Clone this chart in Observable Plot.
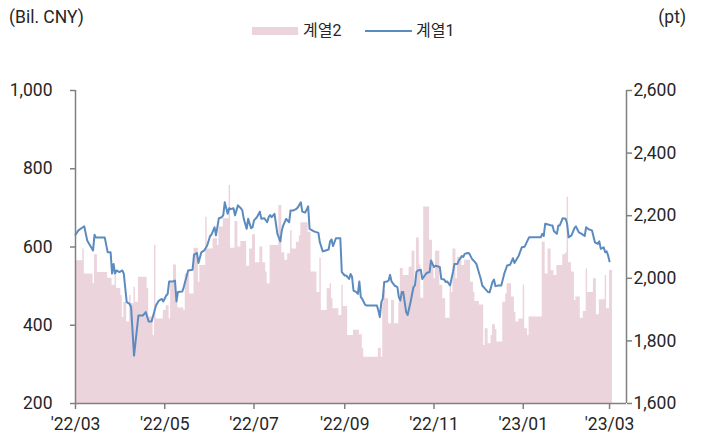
<!DOCTYPE html>
<html><head><meta charset="utf-8">
<script src="https://cdn.jsdelivr.net/npm/d3@7"></script>
<script src="https://cdn.jsdelivr.net/npm/@observablehq/plot@0.6"></script>
<style>
body{margin:0;background:#fff;}
#wrap{position:relative;width:702px;height:442px;font-family:Roboto,"Noto Sans CJK KR",sans-serif;color:#262626;}
.lab{position:absolute;font-size:17.5px;line-height:20px;white-space:nowrap;}
.leg{font-size:16px;}
.sw{position:absolute;}
</style></head><body><div id="wrap"></div>
<script>
// 계열1 (line, right axis, pt)
const lineDates = ["2022-03-01","2022-03-03","2022-03-05","2022-03-07","2022-03-09","2022-03-11","2022-03-13","2022-03-14","2022-03-15","2022-03-21","2022-03-23","2022-03-25","2022-03-26","2022-03-27","2022-03-28","2022-03-29","2022-03-31","2022-04-02","2022-04-03","2022-04-05","2022-04-07","2022-04-08","2022-04-10","2022-04-13","2022-04-16","2022-04-18","2022-04-20","2022-04-22","2022-04-25","2022-04-27","2022-04-29","2022-04-30","2022-05-02","2022-05-03","2022-05-04","2022-05-07","2022-05-08","2022-05-09","2022-05-10","2022-05-13","2022-05-14","2022-05-17","2022-05-20","2022-05-21","2022-05-23","2022-05-24","2022-05-26","2022-05-28","2022-05-30","2022-06-01","2022-06-02","2022-06-04","2022-06-05","2022-06-07","2022-06-09","2022-06-10","2022-06-11","2022-06-13","2022-06-14","2022-06-15","2022-06-17","2022-06-18","2022-06-20","2022-06-22","2022-06-23","2022-06-24","2022-06-26","2022-06-27","2022-06-29","2022-06-30","2022-07-01","2022-07-03","2022-07-05","2022-07-06","2022-07-08","2022-07-10","2022-07-11","2022-07-12","2022-07-13","2022-07-15","2022-07-17","2022-07-19","2022-07-20","2022-07-21","2022-07-23","2022-07-25","2022-07-26","2022-07-28","2022-07-30","2022-07-31","2022-08-02","2022-08-03","2022-08-05","2022-08-07","2022-08-08","2022-08-11","2022-08-14","2022-08-15","2022-08-17","2022-08-19","2022-08-21","2022-08-22","2022-08-23","2022-08-24","2022-08-26","2022-08-29","2022-08-30","2022-09-01","2022-09-02","2022-09-04","2022-09-05","2022-09-06","2022-09-07","2022-09-09","2022-09-10","2022-09-11","2022-09-12","2022-09-13","2022-09-15","2022-09-16","2022-09-23","2022-09-24","2022-09-25","2022-09-26","2022-09-27","2022-09-28","2022-09-30","2022-10-01","2022-10-02","2022-10-03","2022-10-05","2022-10-07","2022-10-08","2022-10-09","2022-10-10","2022-10-11","2022-10-13","2022-10-14","2022-10-16","2022-10-18","2022-10-19","2022-10-20","2022-10-21","2022-10-23","2022-10-24","2022-10-27","2022-10-29","2022-10-30","2022-11-01","2022-11-02","2022-11-05","2022-11-06","2022-11-08","2022-11-09","2022-11-10","2022-11-12","2022-11-14","2022-11-15","2022-11-17","2022-11-18","2022-11-20","2022-11-21","2022-11-22","2022-11-24","2022-11-25","2022-11-27","2022-11-28","2022-11-30","2022-12-01","2022-12-03","2022-12-04","2022-12-06","2022-12-08","2022-12-09","2022-12-11","2022-12-12","2022-12-13","2022-12-15","2022-12-17","2022-12-19","2022-12-21","2022-12-23","2022-12-25","2022-12-26","2022-12-27","2022-12-29","2022-12-30","2022-12-31","2023-01-02","2023-01-04","2023-01-05","2023-01-13","2023-01-14","2023-01-15","2023-01-16","2023-01-18","2023-01-20","2023-01-21","2023-01-22","2023-01-24","2023-01-25","2023-01-26","2023-01-28","2023-01-30","2023-01-31","2023-02-01","2023-02-03","2023-02-05","2023-02-06","2023-02-08","2023-02-10","2023-02-12","2023-02-13","2023-02-15","2023-02-17","2023-02-19","2023-02-21","2023-02-22","2023-02-23","2023-02-25","2023-02-26","2023-02-27","2023-02-28","2023-03-01"];
const lineValues = [2139,2153,2160,2166,2121,2105,2089,2139,2130,2130,2083,2083,2015,2046,2015,2025,2020,2025,2015,1924,1918,1908,1753,1881,1881,1892,1862,1862,1913,1929,1934,1926,1945,1950,1990,1990,1993,1926,1956,1958,1972,2025,2027,2075,2081,2049,2083,2089,2105,2135,2140,2163,2137,2192,2195,2202,2243,2206,2224,2221,2224,2201,2233,2224,2217,2190,2158,2190,2160,2163,2185,2195,2213,2190,2192,2179,2195,2202,2195,2206,2142,2118,2153,2169,2190,2179,2217,2217,2222,2227,2243,2213,2210,2230,2158,2150,2145,2115,2086,2089,2092,2118,2124,2103,2128,2128,2020,2009,2009,1998,2014,2005,1961,1956,1950,1990,1940,1934,1915,1913,1913,1897,1876,1924,1934,1988,1990,1993,2011,1990,1977,1972,1940,1929,1956,1956,1892,1883,1924,1972,1977,2020,2025,2027,1998,2017,2020,2057,2036,2040,2036,1998,1996,1988,1990,1977,2020,2046,2046,2057,2071,2068,2078,2081,2080,2062,2057,2046,2030,1998,1977,1966,1956,1955,1988,1996,1975,1977,1977,2014,2041,2043,2064,2049,2057,2073,2086,2099,2101,2121,2131,2131,2142,2135,2174,2172,2169,2169,2150,2142,2169,2169,2192,2190,2174,2131,2137,2160,2166,2147,2142,2135,2163,2156,2153,2115,2110,2118,2094,2099,2083,2086,2073,2054];

// 계열2 (bars, left axis, Bil. CNY); each value holds until the next date
const barDates = ["2022-03-01","2022-03-06","2022-03-07","2022-03-13","2022-03-14","2022-03-16","2022-03-23","2022-03-26","2022-03-28","2022-03-29","2022-04-01","2022-04-02","2022-04-03","2022-04-05","2022-04-07","2022-04-08","2022-04-10","2022-04-11","2022-04-13","2022-04-19","2022-04-20","2022-04-23","2022-04-24","2022-04-25","2022-04-30","2022-05-02","2022-05-04","2022-05-05","2022-05-07","2022-05-09","2022-05-10","2022-05-14","2022-05-15","2022-05-18","2022-05-21","2022-05-24","2022-05-25","2022-05-29","2022-05-30","2022-06-03","2022-06-06","2022-06-07","2022-06-10","2022-06-14","2022-06-15","2022-06-18","2022-06-20","2022-06-22","2022-06-26","2022-06-28","2022-06-30","2022-07-02","2022-07-05","2022-07-07","2022-07-09","2022-07-10","2022-07-12","2022-07-18","2022-07-20","2022-07-22","2022-07-24","2022-07-26","2022-07-27","2022-07-30","2022-08-01","2022-08-02","2022-08-07","2022-08-09","2022-08-13","2022-08-15","2022-08-16","2022-08-20","2022-08-22","2022-08-23","2022-08-24","2022-08-28","2022-08-30","2022-08-31","2022-09-03","2022-09-07","2022-09-11","2022-09-13","2022-09-14","2022-09-24","2022-09-26","2022-09-27","2022-09-28","2022-09-29","2022-10-01","2022-10-03","2022-10-05","2022-10-08","2022-10-09","2022-10-11","2022-10-15","2022-10-17","2022-10-19","2022-10-20","2022-10-22","2022-10-23","2022-10-25","2022-10-29","2022-10-31","2022-11-01","2022-11-02","2022-11-05","2022-11-07","2022-11-09","2022-11-12","2022-11-13","2022-11-14","2022-11-16","2022-11-17","2022-11-20","2022-11-22","2022-11-26","2022-11-28","2022-11-29","2022-12-02","2022-12-05","2022-12-06","2022-12-08","2022-12-10","2022-12-11","2022-12-13","2022-12-14","2022-12-18","2022-12-20","2022-12-21","2022-12-24","2022-12-26","2022-12-27","2022-12-29","2023-01-01","2023-01-02","2023-01-04","2023-01-05","2023-01-14","2023-01-16","2023-01-18","2023-01-20","2023-01-22","2023-01-24","2023-01-28","2023-01-30","2023-01-31","2023-02-01","2023-02-03","2023-02-05","2023-02-06","2023-02-09","2023-02-11","2023-02-13","2023-02-14","2023-02-18","2023-02-20","2023-02-22","2023-02-26","2023-02-27","2023-03-01"];
const barValues = [565,595,531,507,580,535,520,502,527,494,476,420,459,408,476,455,497,459,523,494,421,374,604,416,438,450,416,508,554,465,444,438,531,480,597,510,553,676,595,621,604,651,672,757,597,665,600,614,551,595,631,560,600,560,536,506,604,706,585,566,583,642,595,612,629,662,638,536,484,571,438,493,506,468,442,425,502,448,374,387,376,340,318,341,318,459,489,468,404,463,404,459,545,527,548,589,497,623,554,469,702,617,553,519,589,502,468,418,497,484,595,519,574,553,566,510,484,461,452,348,391,353,374,401,389,357,459,480,506,472,433,408,416,503,391,374,421,612,531,595,540,527,553,580,585,727,560,536,463,472,418,435,544,484,519,427,465,527,442,540];
const barEndDate = "2023-03-03";

const leftTicks = [200, 400, 600, 800, 1000];
const rightTicks = [1600, 1800, 2000, 2200, 2400, 2600];
const xTicks = ["2022-03-01","2022-05-01","2022-07-01","2022-09-01","2022-11-01","2023-01-01","2023-03-01"];
const xDomain = ["2022-03-01T00:00Z", "2023-03-12T14:00Z"];
const seriesNames = ["계열2", "계열1"];
const unitLeft = "(Bil. CNY)", unitRight = "(pt)";

const barColor = "#ecd4dc", lineColor = "#5b8bbf", axisColor = "#808080", textColor = "#262626";

// right axis (pt) mapped onto the left scale (Bil. CNY)
const toLeft = v => 200 + (v - 1600) * 0.8;

const lineData = lineDates.map((d, i) => ({date: new Date(d), value: lineValues[i]}));
const barData = barDates.map((d, i) => ({date: new Date(d), value: barValues[i]}));
barData.push({date: new Date(barEndDate), value: barValues[barValues.length - 1]});

const x0 = new Date(xDomain[0]), x1 = new Date(xDomain[1]);

const chart = Plot.plot({
  width: 702, height: 442,
  marginLeft: 75, marginRight: 76, marginTop: 90, marginBottom: 39,
  style: {fontFamily: "Roboto, 'Noto Sans CJK KR', sans-serif", fontSize: "17.5px", color: textColor, background: "transparent"},
  x: {type: "utc", domain: [x0, x1]},
  y: {domain: [200, 1000]},
  marks: [
    Plot.areaY(barData, {x: "date", y1: 200, y2: "value", curve: "step-after", fill: barColor}),
    Plot.line(lineData, {x: "date", y: d => toLeft(d.value), stroke: lineColor, strokeWidth: 2}),
    Plot.ruleX([x0, x1], {stroke: axisColor, strokeWidth: 1.5}),
    Plot.ruleY([200], {stroke: axisColor, strokeWidth: 1.5}),
    Plot.axisY(leftTicks, {anchor: "left", tickSize: 5, tickPadding: 18, tickFormat: d3.format(","), stroke: axisColor, strokeWidth: 1.5, color: textColor, label: null, fontSize: 17.5}),
    Plot.axisY(rightTicks.map(toLeft), {anchor: "right", tickSize: 5, tickPadding: 2, tickFormat: (d, i) => d3.format(",")(rightTicks[i]), stroke: axisColor, strokeWidth: 1.5, color: textColor, label: null, fontSize: 17.5}),
    Plot.axisX(xTicks.map(d => new Date(d)), {anchor: "bottom", tickSize: 6, tickPadding: 8, tickFormat: d => "'" + d3.utcFormat("%y/%m")(d), stroke: axisColor, strokeWidth: 1.5, color: textColor, label: null, fontSize: 17.5})
  ]
});

const wrap = document.getElementById("wrap");
chart.style.position = "absolute"; chart.style.left = "0"; chart.style.top = "0";
wrap.appendChild(chart);

function addLabel(text, css, cls) {
  const el = document.createElement("div");
  el.className = "lab" + (cls ? " " + cls : ""); el.textContent = text;
  Object.assign(el.style, css);
  wrap.appendChild(el);
}
function addSwatch(css) {
  const el = document.createElement("div");
  el.className = "sw";
  Object.assign(el.style, css);
  wrap.appendChild(el);
}
addLabel(unitLeft, {left: "9px", top: "7px"});
addLabel(unitRight, {right: "16px", top: "7px"});
addSwatch({left: "252px", top: "27px", width: "46px", height: "8px", background: barColor});
addLabel(seriesNames[0], {left: "303px", top: "21px"}, "leg");
addSwatch({left: "365px", top: "30px", width: "47px", height: "2px", background: lineColor});
addLabel(seriesNames[1], {left: "416px", top: "21px"}, "leg");
</script>
</body></html>
